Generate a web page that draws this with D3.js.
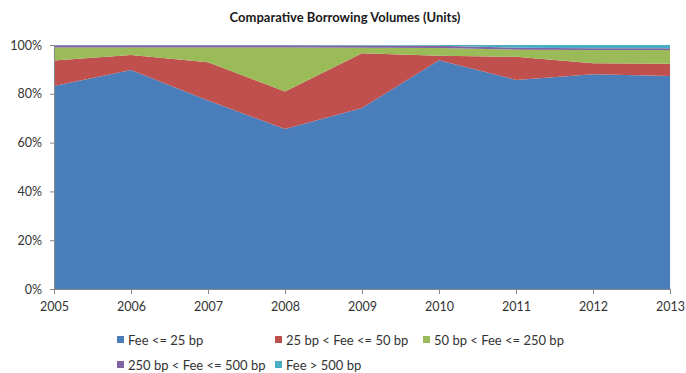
<!DOCTYPE html>
<html>
<head>
<meta charset="utf-8">
<script src="https://cdn.jsdelivr.net/npm/d3@7"></script>
<style>
  html, body { margin: 0; padding: 0; background: #fff; }
  svg { display: block; font-family: Lato, "Open Sans", sans-serif; }
</style>
</head>
<body>
<svg id="chart" width="686" height="373"></svg>
<script>
// Share of borrowing volume by fee bucket, per year (percent)
const years = [2005, 2006, 2007, 2008, 2009, 2010, 2011, 2012, 2013];
const seriesNames = ["Fee <= 25 bp", "25 bp < Fee <= 50 bp", "50 bp < Fee <= 250 bp", "250 bp < Fee <= 500 bp", "Fee > 500 bp"];
const feeUpTo25   = [83.2, 89.8, 77.3, 65.6, 74.2, 93.7, 85.7, 88.0, 87.3];
const fee25to50   = [10.4,  6.1, 15.6, 15.3, 22.4,  1.9,  9.5,  4.5,  5.0];
const fee50to250  = [ 5.4,  3.1,  6.1, 18.1,  2.3,  3.2,  2.9,  5.4,  5.6];
const fee250to500 = [ 0.9,  0.9,  0.9,  0.9,  0.9,  0.9,  0.8,  0.8,  0.8];
const feeOver500  = [ 0.1,  0.1,  0.1,  0.1,  0.2,  0.3,  1.1,  1.3,  1.3];
const yTicks = [0, 0.2, 0.4, 0.6, 0.8, 1.0];
const colors = ["#4a7ebb", "#c0504d", "#9bbb59", "#8064a2", "#4bacc6"];

const seriesValues = [feeUpTo25, fee25to50, fee50to250, fee250to500, feeOver500];
const rows = years.map((yr, i) => {
  const r = { year: yr };
  seriesNames.forEach((n, k) => r[n] = seriesValues[k][i]);
  return r;
});

const svg = d3.select("#chart");
const margin = { left: 54, right: 16, top: 45, bottom: 84 };
const W = 686, H = 373;

const x = d3.scaleLinear().domain([years[0], years[years.length - 1]]).range([margin.left, W - margin.right]);
const y = d3.scaleLinear().domain([0, 1]).range([H - margin.bottom, margin.top]);

const stacked = d3.stack().keys(seriesNames).offset(d3.stackOffsetExpand)(rows);

const area = d3.area()
  .x(d => x(d.data.year))
  .y0(d => y(d[0]))
  .y1(d => y(d[1]));

svg.append("g").selectAll("path")
  .data(stacked)
  .join("path")
  .attr("d", area)
  .attr("fill", (d, i) => colors[i]);

// Title
svg.append("text")
  .attr("x", 345).attr("y", 22)
  .attr("text-anchor", "middle")
  .attr("font-size", 13).attr("font-weight", "bold")
  .attr("fill", "#1a1a1a")
  .text("Comparative Borrowing Volumes (Units)");

// Axes
const yAxis = d3.axisLeft(y).tickValues(yTicks).tickFormat(d3.format(".0%")).tickSize(4).tickPadding(8);
const gy = svg.append("g").attr("transform", `translate(${margin.left},0)`).call(yAxis);
gy.select(".domain").attr("stroke", "#868686");
gy.selectAll(".tick line").attr("stroke", "#868686");
gy.selectAll("text").attr("font-size", 12.5).attr("fill", "#333").attr("font-family", "Lato, sans-serif");

const xAxis = d3.axisBottom(x).tickValues(years).tickFormat(d3.format("d")).tickSize(5).tickSizeOuter(0).tickPadding(8);
const gx = svg.append("g").attr("transform", `translate(0,${H - margin.bottom})`).call(xAxis);
gx.select(".domain").attr("stroke", "#868686");
gx.selectAll(".tick line").attr("stroke", "#868686");
gx.selectAll("text").attr("font-size", 12.5).attr("fill", "#333").attr("font-family", "Lato, sans-serif");

// Legend
const legendPos = [[117, 340], [275, 340], [423, 340], [117, 365], [275, 365]];
const legend = svg.append("g").selectAll("g")
  .data(seriesNames)
  .join("g")
  .attr("transform", (d, i) => `translate(${legendPos[i][0]},${legendPos[i][1]})`);
legend.append("rect")
  .attr("x", 0).attr("y", -4).attr("width", 7).attr("height", 7)
  .attr("fill", (d, i) => colors[i]);
legend.append("text")
  .attr("x", 11).attr("y", 0).attr("dy", "0.35em")
  .attr("font-size", 13).attr("fill", "#333")
  .text(d => d);
</script>
</body>
</html>
